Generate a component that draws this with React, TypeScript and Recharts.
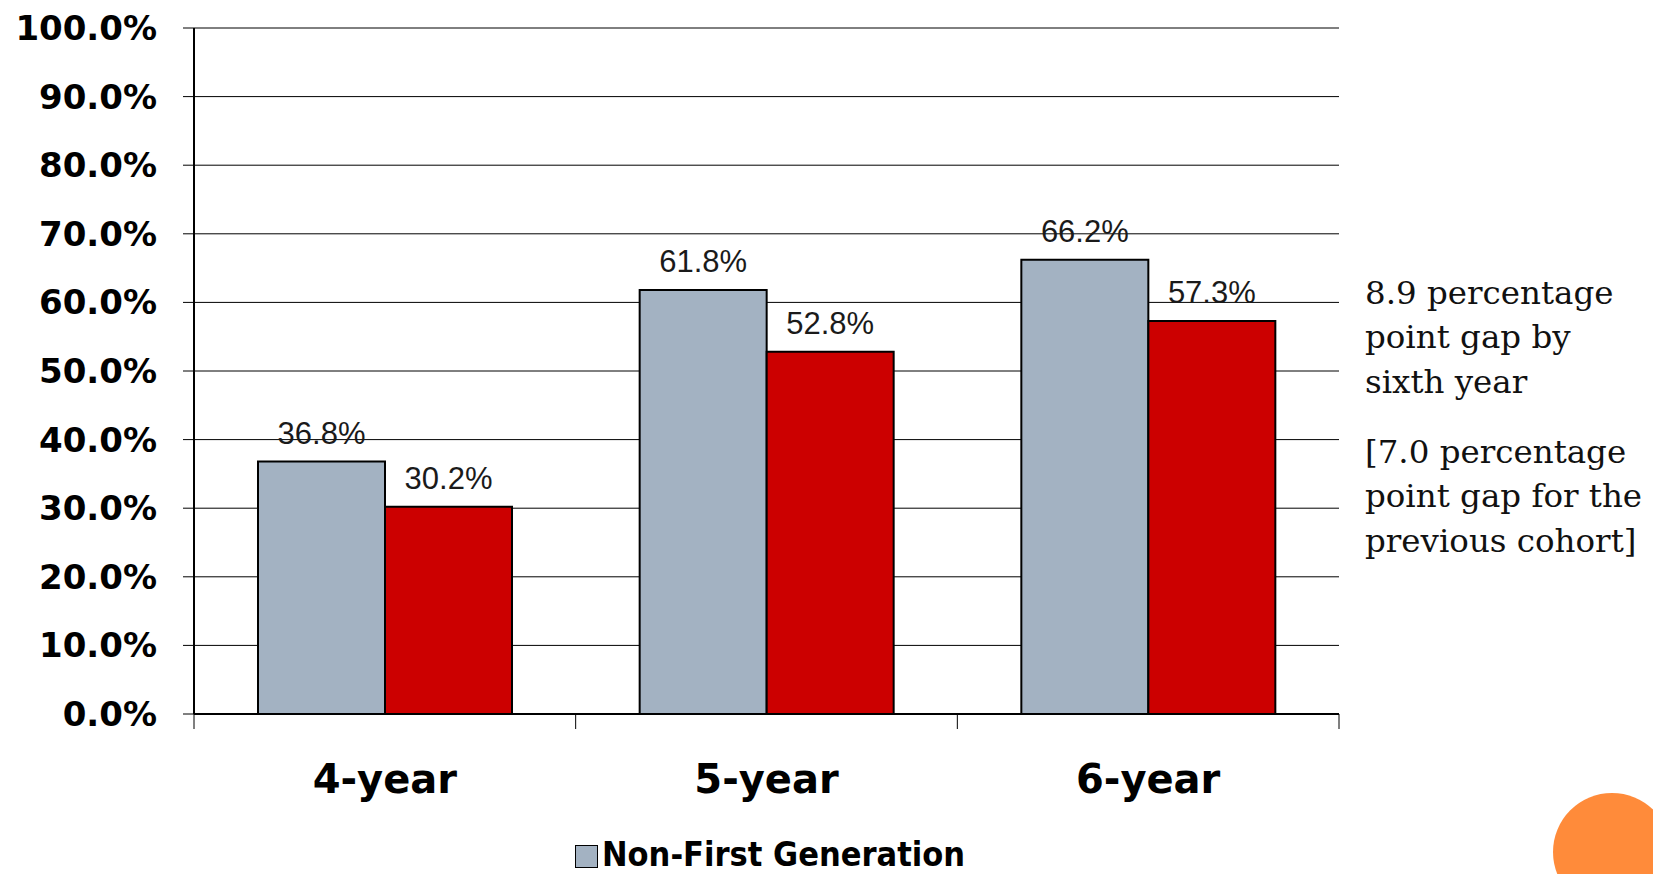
import React from "react";
import { Bar, BarChart, CartesianGrid, LabelList, Legend, XAxis, YAxis } from "recharts";

const categories = ["4-year", "5-year", "6-year"];
const nonFirstGen = [36.8, 61.8, 66.2];
const firstGen = [30.2, 52.8, 57.3];
const yTicks = [0, 10, 20, 30, 40, 50, 60, 70, 80, 90, 100];
const gapNote = ["8.9 percentage", "point gap by", "sixth year"];
const prevGapNote = ["[7.0 percentage", "point gap for the", "previous cohort]"];

const data = categories.map((name, i) => ({
  name,
  nonFirst: nonFirstGen[i],
  first: firstGen[i],
}));

const pct = (v: number | string) => `${Number(v).toFixed(1)}%`;

const X_TICK_SIZE = 15;
const X_TICK_MARGIN = 36;

// category labels, with tick marks on the band edges instead of the centre
function CategoryTick(props: any) {
  const { x, y, payload, width, visibleTicksCount, index } = props;
  const half =
    typeof payload?.offset === "number" && payload.offset > 0
      ? payload.offset
      : width / visibleTicksCount / 2;
  const axisY = y - X_TICK_SIZE - X_TICK_MARGIN;
  return (
    <g>
      <line x1={x - half} x2={x - half} y1={axisY} y2={axisY + X_TICK_SIZE} stroke="#000" />
      {index === visibleTicksCount - 1 && (
        <line x1={x + half} x2={x + half} y1={axisY} y2={axisY + X_TICK_SIZE} stroke="#000" />
      )}
      <text
        x={x}
        y={y}
        dy="0.71em"
        textAnchor="middle"
        fill="#000"
        style={{ fontFamily: "'DejaVu Sans', Verdana, sans-serif", fontWeight: 700, fontSize: 40 }}
      >
        {payload.value}
      </text>
    </g>
  );
}

function LegendContent({ payload }: any) {
  const items = (payload ?? []).filter((entry: any) => entry.type !== "none");
  return (
    <div style={{ paddingLeft: 575, height: 35, display: "flex", alignItems: "flex-start" }}>
      {items.map((entry: any) => (
        <div key={entry.value} style={{ display: "flex", alignItems: "flex-start" }}>
          <span
            style={{
              display: "inline-block",
              width: 21,
              height: 21,
              marginTop: 6,
              background: entry.color,
              border: "1.5px solid #000",
            }}
          />
          <span
            style={{
              marginLeft: 4,
              fontFamily: "'DejaVu Sans Condensed', 'DejaVu Sans', sans-serif",
              fontStretch: "condensed",
              fontWeight: 700,
              fontSize: 34,
              lineHeight: "30px",
              color: "#000",
              whiteSpace: "nowrap",
            }}
          >
            {entry.value}
          </span>
        </div>
      ))}
    </div>
  );
}

const noteStyle: React.CSSProperties = {
  position: "absolute",
  left: 1365,
  fontFamily: "'DejaVu Serif', serif",
  fontSize: 32.5,
  lineHeight: "44.5px",
  color: "#111",
  whiteSpace: "nowrap",
};

export default function App() {
  return (
    <div
      style={{
        position: "absolute",
        left: 0,
        top: 0,
        width: 1653,
        height: 874,
        overflow: "hidden",
        background: "#fff",
      }}
    >
      <BarChart
        width={1360}
        height={874}
        data={data}
        margin={{ top: 28, right: 21, bottom: 0, left: 0 }}
        barCategoryGap={64}
        barGap={0}
      >
        <CartesianGrid vertical={false} stroke="#000" strokeWidth={1} />
        <XAxis
          dataKey="name"
          height={125}
          interval={0}
          tickLine={false}
          tickSize={X_TICK_SIZE}
          tickMargin={X_TICK_MARGIN}
          axisLine={{ stroke: "#000", strokeWidth: 2 }}
          tick={<CategoryTick />}
        />
        <YAxis
          width={194}
          domain={[0, 100]}
          ticks={yTicks}
          interval={0}
          tickFormatter={pct}
          tickSize={11}
          tickMargin={26}
          axisLine={{ stroke: "#000", strokeWidth: 2 }}
          tickLine={{ stroke: "#000" }}
          tick={{
            fill: "#000",
            fontSize: 34,
            fontWeight: 700,
            fontFamily: "'DejaVu Sans', Verdana, sans-serif",
          }}
        />
        <YAxis
          yAxisId="right"
          orientation="right"
          width={0}
          domain={[0, 100]}
          tick={false}
          tickLine={false}
          axisLine={{ stroke: "#000", strokeWidth: 2 }}
        />
        <Legend verticalAlign="bottom" content={<LegendContent />} />
        <Bar
          dataKey="nonFirst"
          name="Non-First Generation"
          fill="#A3B2C2"
          stroke="#000"
          strokeWidth={2}
          isAnimationActive={false}
        >
          <LabelList
            dataKey="nonFirst"
            position="top"
            offset={18}
            formatter={pct}
            fill="#1a1a1a"
            style={{ fontFamily: "'Liberation Sans', Arial, sans-serif", fontSize: 31 }}
          />
        </Bar>
        <Bar
          dataKey="first"
          name="First Generation"
          fill="#CC0000"
          stroke="#000"
          strokeWidth={2}
          legendType="none"
          isAnimationActive={false}
        >
          <LabelList
            dataKey="first"
            position="top"
            offset={18}
            formatter={pct}
            fill="#1a1a1a"
            style={{ fontFamily: "'Liberation Sans', Arial, sans-serif", fontSize: 31 }}
          />
        </Bar>
      </BarChart>

      <div style={{ ...noteStyle, top: 270.5 }}>
        {gapNote.map((line) => (
          <div key={line}>{line}</div>
        ))}
      </div>
      <div style={{ ...noteStyle, top: 429.5 }}>
        {prevGapNote.map((line) => (
          <div key={line}>{line}</div>
        ))}
      </div>

      <div
        style={{
          position: "absolute",
          left: 1553,
          top: 793,
          width: 118,
          height: 118,
          borderRadius: "50%",
          background: "#FF8B3A",
        }}
      />
    </div>
  );
}
